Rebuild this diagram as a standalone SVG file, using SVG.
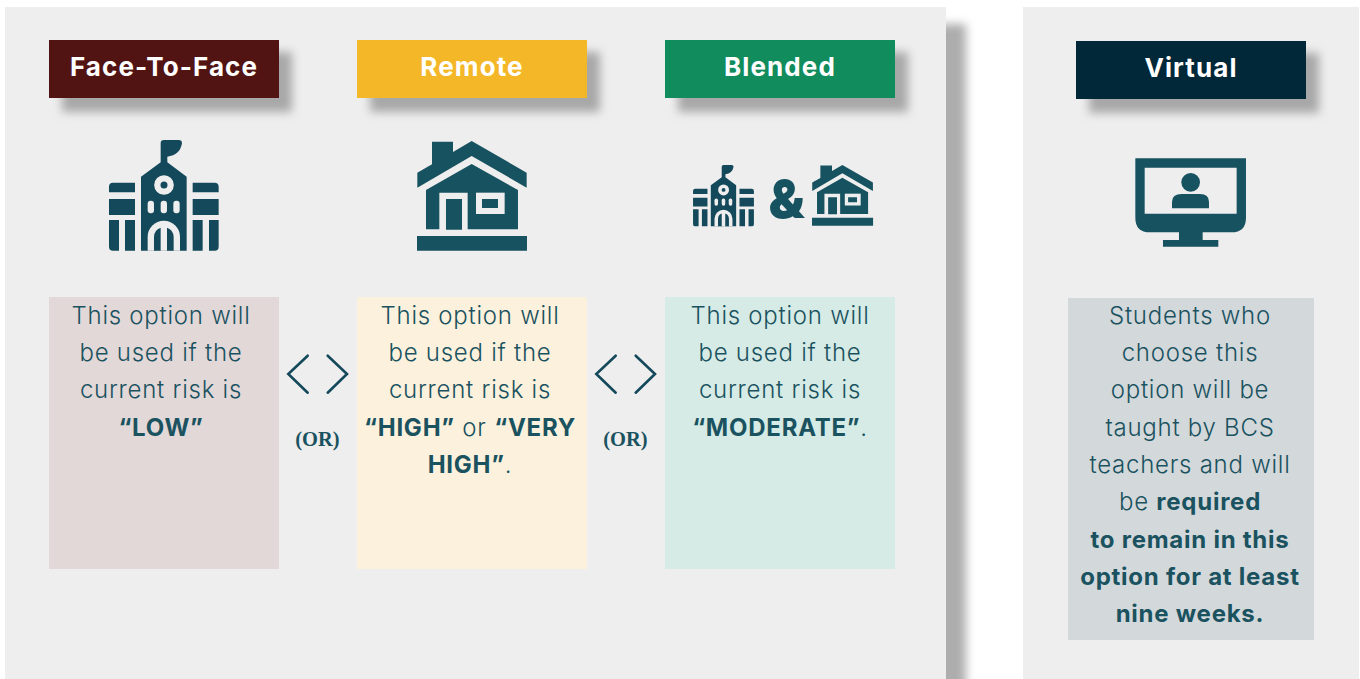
<svg xmlns="http://www.w3.org/2000/svg" width="1360" height="679" viewBox="0 0 1360 679">
<style>
.bg{fill:#eeeeee}
.sh{fill:#a8a8a8;filter:url(#b)}
.ps{fill:#adadad;filter:url(#b)}
.tag{font:700 26px Inter,"Open Sans",sans-serif;fill:#fff;text-anchor:middle;letter-spacing:1.1px}
.t{font:300 24px Inter,"Open Sans",sans-serif;fill:#1a5260;text-anchor:middle;letter-spacing:.75px}
.t tspan,.b{font-weight:700}
.ic{fill:#14495b}
.ih{fill:#165260}
.chev{fill:none;stroke:#14495b;stroke-width:2.6;stroke-linecap:round}
.or{font:700 20.5px "Liberation Serif",serif;fill:#1a5260;text-anchor:middle}
</style>
<defs>
<filter id="b" x="-30%" y="-30%" width="160%" height="160%"><feGaussianBlur stdDeviation="5"/></filter>
<g id="school">
<path d="M153 362V140L212 97V40Q212 30 222 30H266Q276 30 276 40Q270 76 232 80V97L290 140V362Z"/>
<circle cx="222" cy="165" r="20" fill="none" stroke="#eee" stroke-width="19"/>
<rect x="173" y="212" width="19" height="38" rx="9" fill="#eee"/><rect x="212" y="212" width="19" height="38" rx="9" fill="#eee"/><rect x="250" y="212" width="19" height="38" rx="9" fill="#eee"/>
<path d="M173 362V321A48 48 0 0 1 270 321V362Z" fill="#eee"/>
<path d="M192 362V321A30 30 0 0 1 212 293V362ZM231 362V293A30 30 0 0 1 251 321V362Z"/>
<path d="M57 187V170Q57 158 69 158H135V187ZM57 207H135V255H57ZM57 270H87V362H69Q57 362 57 350ZM105 270H135V362H105Z"/>
<path d="M308 158H374Q386 158 386 170V187H308ZM308 207H386V255H308ZM308 270H338V362H308ZM357 270H386V350Q386 362 374 362H357Z"/>
</g>
<g id="house">
<path d="M96 35H159V66L215 33L380 128V173L215 78L52 173V128L96 103Z"/>
<path d="M78 298V180L215 102L354 180V298H203V188H118V298Z"/>
<path d="M228 188H314V252H228Z" fill="#eee"/>
<path d="M246 207H294V234H246ZM138 207H186V299H138ZM51 318H381V362H51Z"/>
</g>
</defs>
<rect width="1360" height="679" fill="#fff"/>
<g id="panels">
<rect class="ps" x="20" y="24" width="946" height="690"/>
<rect class="bg" x="5" y="7" width="941" height="672"/>
<rect class="bg" x="1023" y="7" width="336" height="672"/>
</g>
<g id="connectors">
<path class="chev" d="M307.7 355.7L288.3 374L307.7 392.7M327.7 355.7L347 374L327.7 392.7"/>
<path class="chev" d="M615.7 355.7L596.3 374L615.7 392.7M635.7 355.7L655 374L635.7 392.7"/>
<text class="or" x="317.5" y="446">(OR)</text>
<text class="or" x="625.5" y="446">(OR)</text>
</g>
<g id="face-to-face">
<rect class="sh" x="62" y="52" width="230" height="60"/>
<rect x="49" y="40" width="230" height="58" fill="#521313"/>
<text class="tag" x="164" y="76">Face-To-Face</text>
<use href="#school" class="ic" transform="translate(90 130) scale(.3333)"/>
<rect x="49" y="297" width="230" height="272" fill="#e2d8d8"/>
<text class="t" x="161" y="324">This option will</text>
<text class="t" x="161" y="361">be used if the</text>
<text class="t" x="161" y="398">current risk is</text>
<text class="t b" x="161" y="436">“LOW”</text>
</g>
<g id="remote">
<rect class="sh" x="370" y="52" width="230" height="60"/>
<rect x="357" y="40" width="230" height="58" fill="#f4b728"/>
<text class="tag" x="472" y="76">Remote</text>
<use href="#house" class="ih" transform="translate(400 130) scale(.3333)"/>
<rect x="357" y="297" width="230" height="272" fill="#fbf1dc"/>
<text class="t" x="470" y="324">This option will</text>
<text class="t" x="470" y="361">be used if the</text>
<text class="t" x="470" y="398">current risk is</text>
<text class="t" x="470" y="436"><tspan>“HIGH”</tspan> or <tspan>“VERY</tspan></text>
<text class="t" x="470" y="473"><tspan>HIGH”</tspan>.</text>
</g>
<g id="blended">
<rect class="sh" x="678" y="52" width="230" height="60"/>
<rect x="665" y="40" width="230" height="58" fill="#118c5d"/>
<text class="tag" x="780" y="76">Blended</text>
<use href="#school" class="ic" transform="translate(682.5 159.4) scale(.185)"/>
<use href="#house" class="ih" transform="translate(802.6 158.9) scale(.185)"/>
<text x="786.5" y="218" text-anchor="middle" style="font:900 52px Inter,sans-serif;fill:#165260">&amp;</text>
<rect x="665" y="297" width="230" height="272" fill="#d6ebe5"/>
<text class="t" x="780" y="324">This option will</text>
<text class="t" x="780" y="361">be used if the</text>
<text class="t" x="780" y="398">current risk is</text>
<text class="t" x="780" y="436"><tspan>“MODERATE”</tspan>.</text>
</g>
<g id="virtual">
<rect class="sh" x="1089" y="53" width="230" height="60"/>
<rect x="1076" y="41" width="230" height="58" fill="#012838"/>
<text class="tag" x="1191" y="77">Virtual</text>
<g class="ih" transform="translate(1120 145) scale(.3333)">
<path fill-rule="evenodd" d="M46 40H378V218Q378 262 334 262H248V285H295V305H129V285H177V262H90Q46 262 46 218ZM74 68V206H350V68Z"/>
<circle cx="212" cy="112" r="28"/>
<path d="M156 190V170Q156 147 185 147H240Q267 147 267 170V190Z"/>
</g>
<rect x="1068" y="298" width="246" height="342" fill="#d3d8db"/>
<text class="t" x="1190" y="324">Students who</text>
<text class="t" x="1190" y="361">choose this</text>
<text class="t" x="1190" y="398">option will be</text>
<text class="t" x="1190" y="436">taught by BCS</text>
<text class="t" x="1190" y="473">teachers and will</text>
<text class="t" x="1190" y="510">be <tspan>required</tspan></text>
<text class="t b" x="1190" y="548">to remain in this</text>
<text class="t b" x="1190" y="585">option for at least</text>
<text class="t b" x="1190" y="622">nine weeks.</text>
</g>
</svg>
